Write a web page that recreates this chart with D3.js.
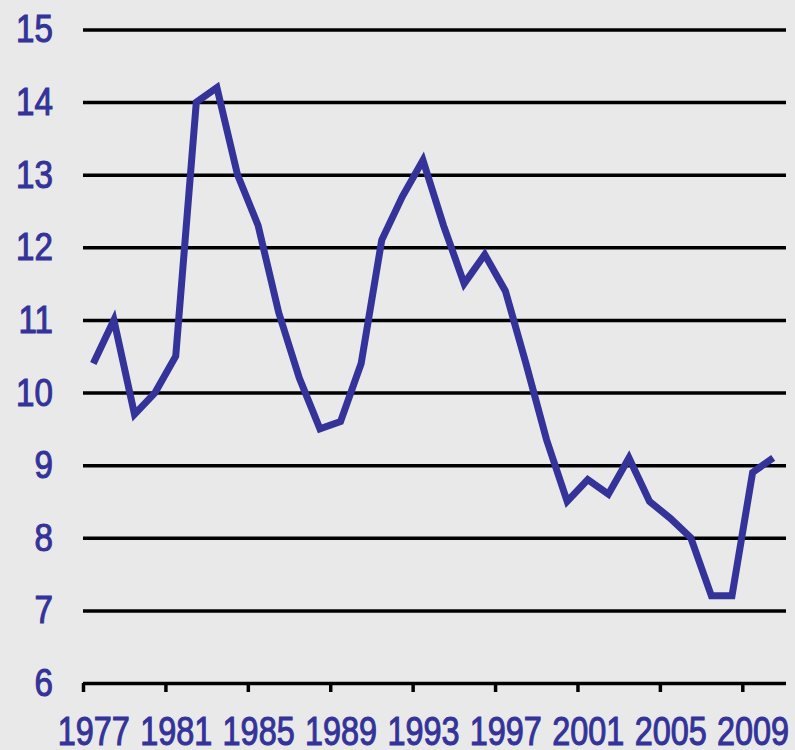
<!DOCTYPE html>
<html>
<head>
<meta charset="utf-8">
<script src="https://cdn.jsdelivr.net/npm/d3@7"></script>
<style>
  html, body { margin: 0; padding: 0; background: #e9e9e9; }
  svg { display: block; }
  text { font-family: "Liberation Sans", Arial, sans-serif; fill: #333399; }
</style>
</head>
<body>
<div id="chart"></div>
<script>
// data
const years = d3.range(1977, 2011);
const values = [10.4, 11.0, 9.7, 10.0, 10.5, 14.0, 14.2, 13.0, 12.3, 11.1,
                10.2, 9.5, 9.6, 10.4, 12.1, 12.7, 13.2, 12.3, 11.5, 11.9,
                11.4, 10.4, 9.35, 8.5, 8.8, 8.6, 9.1, 8.5, 8.27, 8.0,
                7.2, 7.2, 8.9, 9.1];
const yTicks = [6, 7, 8, 9, 10, 11, 12, 13, 14, 15];
const xLabels = [1977, 1981, 1985, 1989, 1993, 1997, 2001, 2005, 2009];

const width = 795, height = 750;
const blue = "#333399";

const svg = d3.select("#chart").append("svg")
    .attr("width", width)
    .attr("height", height);

svg.append("rect").attr("width", width).attr("height", height).attr("fill", "#e9e9e9");

// category axis: each year is a slot, ticks sit between slots
const x = d3.scaleLinear().domain([1976.5, 2010.5]).range([83, 783.5]);
const y = d3.scaleLinear().domain([6, 15]).range([683, 29.5]);

// horizontal gridlines + y labels
const yAxis = svg.append("g")
    .attr("transform", `translate(${x(1976.5)},0)`)
    .call(d3.axisLeft(y).tickValues(yTicks).tickSize(-(786 - x(1976.5))).tickPadding(30));
yAxis.select(".domain").remove();
yAxis.selectAll(".tick line").attr("stroke", "#000").attr("stroke-width", 3.5);
yAxis.selectAll(".tick text")
    .attr("x", 0).attr("dy", null)
    .attr("transform", "translate(-30,-1) scale(0.85,1)")
    .attr("dominant-baseline", "central")
    .style("font-size", "39px")
    .attr("fill", blue)
    .attr("stroke", blue)
    .attr("stroke-width", 1.1);

// x axis tick marks at slot boundaries
const xTickAxis = svg.append("g")
    .attr("transform", `translate(0,${y(6)})`)
    .call(d3.axisBottom(x).tickValues(xLabels.map(d => d - 0.5)).tickSize(9).tickFormat(""));
xTickAxis.select(".domain").remove();
xTickAxis.selectAll(".tick line").attr("stroke", "#000").attr("stroke-width", 3.5);

// x labels centred on the slots
const xLabelAxis = svg.append("g")
    .attr("transform", `translate(0,${y(6)})`)
    .call(d3.axisBottom(x).tickValues(xLabels).tickSize(0).tickFormat(d3.format("d")));
xLabelAxis.select(".domain").remove();
xLabelAxis.selectAll(".tick text")
    .attr("y", 0).attr("dy", null)
    .attr("transform", "translate(0,62) scale(0.81,1)")
    .style("font-size", "40px")
    .attr("fill", blue)
    .attr("stroke", blue)
    .attr("stroke-width", 1.1);

// the series
const line = d3.line()
    .x((d, i) => x(years[i]))
    .y(d => y(d));

svg.append("path")
    .datum(values)
    .attr("d", line)
    .attr("fill", "none")
    .attr("stroke", blue)
    .attr("stroke-width", 7)
    .attr("stroke-linejoin", "miter");
</script>
</body>
</html>
